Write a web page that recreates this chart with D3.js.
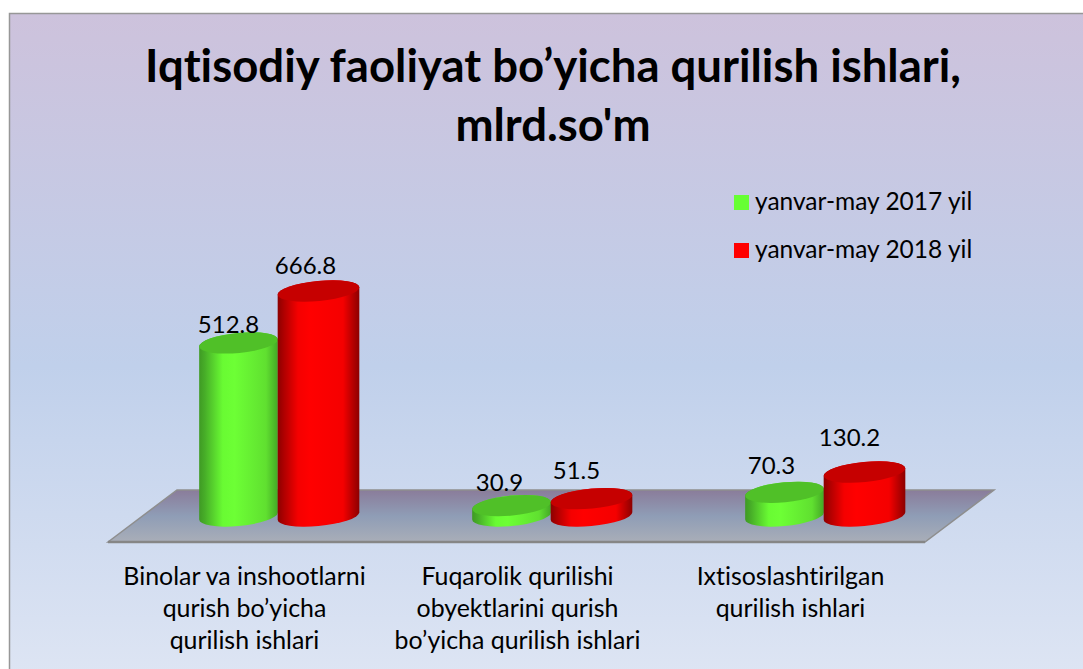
<!DOCTYPE html>
<html>
<head>
<meta charset="utf-8">
<script src="https://cdn.jsdelivr.net/npm/d3@7"></script>
<style>html,body{margin:0;padding:0;background:#fff;overflow:hidden}svg{display:block}text{font-family:Lato,"Open Sans",sans-serif;fill:#000;font-variant-ligatures:none}</style>
</head>
<body>
<div id="chart"></div>
<script>
const titleLines = ["Iqtisodiy faoliyat bo’yicha qurilish ishlari,", "mlrd.so'm"];
const categories = ["A", "B", "C"];
const categoryLabels = [
  ["Binolar va inshootlarni", "qurish bo’yicha", "qurilish ishlari"],
  ["Fuqarolik qurilishi", "obyektlarini qurish", "bo’yicha qurilish ishlari"],
  ["Ixtisoslashtirilgan", "qurilish ishlari"]
];
const seriesNames = ["yanvar-may 2017 yil", "yanvar-may 2018 yil"];
const values2017 = [512.8, 30.9, 70.3];
const values2018 = [666.8, 51.5, 130.2];
const valueText2017 = ["512.8", "30.9", "70.3"];
const valueText2018 = ["666.8", "51.5", "130.2"];

const W = 1083, H = 669;
const svg = d3.select("#chart").append("svg").attr("width", W).attr("height", H);
const defs = svg.append("defs");

const bg = defs.append("linearGradient").attr("id", "bg").attr("x1", 0).attr("x2", 0).attr("y1", 0).attr("y2", 1);
[[0, "#cdc2dc"], [0.52, "#c0d0eb"], [1, "#dfe6f4"]].forEach(s => bg.append("stop").attr("offset", s[0]).attr("stop-color", s[1]));
const fl = defs.append("linearGradient").attr("id", "floor").attr("x1", 0).attr("x2", 0).attr("y1", 0).attr("y2", 1);
[[0, "#8a7c9a"], [0.5, "#8f9db6"], [1, "#a9aeb8"]].forEach(s => fl.append("stop").attr("offset", s[0]).attr("stop-color", s[1]));

const palette = [
  { id: "gG", top: "#50c028", legend: "#66ff33", dA: -1, dX: 1, stops: [[0, "#3f9a24"], [0.07, "#47ad28"], [0.3, "#69fb33"], [0.45, "#6dff35"], [0.85, "#60e030"], [1, "#44a826"]] },
  { id: "gR", top: "#c60000", legend: "#ff0000", dA: 0.5, dX: 0, stops: [[0, "#8c0000"], [0.08, "#b00000"], [0.25, "#f50000"], [0.4, "#ff0000"], [0.8, "#f50000"], [1, "#8c0000"]] }
];
palette.forEach(p => {
  const g = defs.append("linearGradient").attr("id", p.id).attr("x1", 0).attr("x2", 1).attr("y1", 0).attr("y2", 0);
  p.stops.forEach(s => g.append("stop").attr("offset", s[0]).attr("stop-color", s[1]));
});

// frame
svg.append("rect").attr("x", 9.5).attr("y", 13.5).attr("width", W + 10).attr("height", H + 10)
  .attr("fill", "url(#bg)").attr("stroke", "#979797").attr("stroke-width", 1.5);

// title
svg.append("g").selectAll("text").data(titleLines).join("text")
  .attr("x", 553).attr("y", (d, i) => 82 + i * 59)
  .attr("text-anchor", "middle").attr("font-size", 45.5).attr("font-weight", 700).text(d => d);

// floor
const floorPts = [[108, 542], [177, 490], [994, 490], [925, 542]];
svg.append("path").attr("d", d3.line()(floorPts) + "Z").attr("fill", "url(#floor)").attr("stroke", "#8e8e8e").attr("stroke-width", 1.5);
svg.append("path").attr("d", d3.line()([floorPts[0], floorPts[3]])).attr("stroke", "#868686").attr("stroke-width", 2.5);

// scales
const x = d3.scaleBand().domain(categories).range([141.5, 960.5]);
const xSub = d3.scaleBand().domain(seriesNames).range([0, 162]);
const baseY = 516;
const y = d3.scaleLinear().domain([0, 666.8]).range([baseY, 291]);

const tilt = -5.5 * Math.PI / 180, ry = 10;
const rows = [values2017, values2018];
const texts = [valueText2017, valueText2018];
const labelDx = [[-10, -12, -13], [-13, -15, -15]];
const labelDy = [[-10, -15, -18], [-17, -20, -26]];

function extremes(cx, cy, a, b) {
  const t = Math.atan2(-b * Math.sin(tilt), a * Math.cos(tilt));
  const dx = a * Math.cos(t) * Math.cos(tilt) - b * Math.sin(t) * Math.sin(tilt);
  const dy = a * Math.cos(t) * Math.sin(tilt) + b * Math.sin(t) * Math.cos(tilt);
  return { lx: cx - dx, ly: cy - dy, rx: cx + dx, ry: cy + dy };
}
const deg = tilt * 180 / Math.PI;

categories.forEach((c, i) => {
  const center = x(c) + x.bandwidth() / 2 - xSub.range()[1] / 2;
  seriesNames.forEach((s, k) => {
    const a = xSub.bandwidth() / 2 + palette[k].dA;
    const cx = center + xSub(s) + xSub.bandwidth() / 2 + palette[k].dX;
    const topY = y(rows[k][i]);
    const eb = extremes(cx, baseY, a, ry), et = extremes(cx, topY, a, ry);
    const arc = (sweep, p) => `A${a},${ry} ${deg} 0 ${sweep} ${p[0]},${p[1]}`;
    const g = svg.append("g");
    g.append("path").attr("fill", `url(#${palette[k].id})`).attr("d",
      `M${et.lx},${et.ly}L${eb.lx},${eb.ly}${arc(0, [eb.rx, eb.ry])}L${et.rx},${et.ry}${arc(0, [et.lx, et.ly])}Z`);
    g.append("ellipse").attr("rx", a).attr("ry", ry).attr("fill", palette[k].top)
      .attr("transform", `translate(${cx},${topY}) rotate(${deg})`);
    g.append("text").attr("x", cx + labelDx[k][i]).attr("y", topY + labelDy[k][i])
      .attr("text-anchor", "middle").attr("font-size", 24).text(texts[k][i]);
  });
});

// category labels
categoryLabels.forEach((lines, i) => {
  svg.append("g").selectAll("text").data(lines).join("text")
    .attr("x", x(categories[i]) + x.bandwidth() / 2 - 33.5)
    .attr("y", (d, j) => 585 + j * 32)
    .attr("text-anchor", "middle").attr("font-size", 24.9).text(d => d);
});

// legend
const lg = svg.append("g").selectAll("g").data(seriesNames).join("g")
  .attr("transform", (d, i) => `translate(734,${195 + i * 48})`);
lg.append("rect").attr("width", 15).attr("height", 15).attr("fill", (d, i) => palette[i].legend);
lg.append("text").attr("x", 21).attr("y", 15).attr("font-size", 24.5).text(d => d);
</script>
</body>
</html>
